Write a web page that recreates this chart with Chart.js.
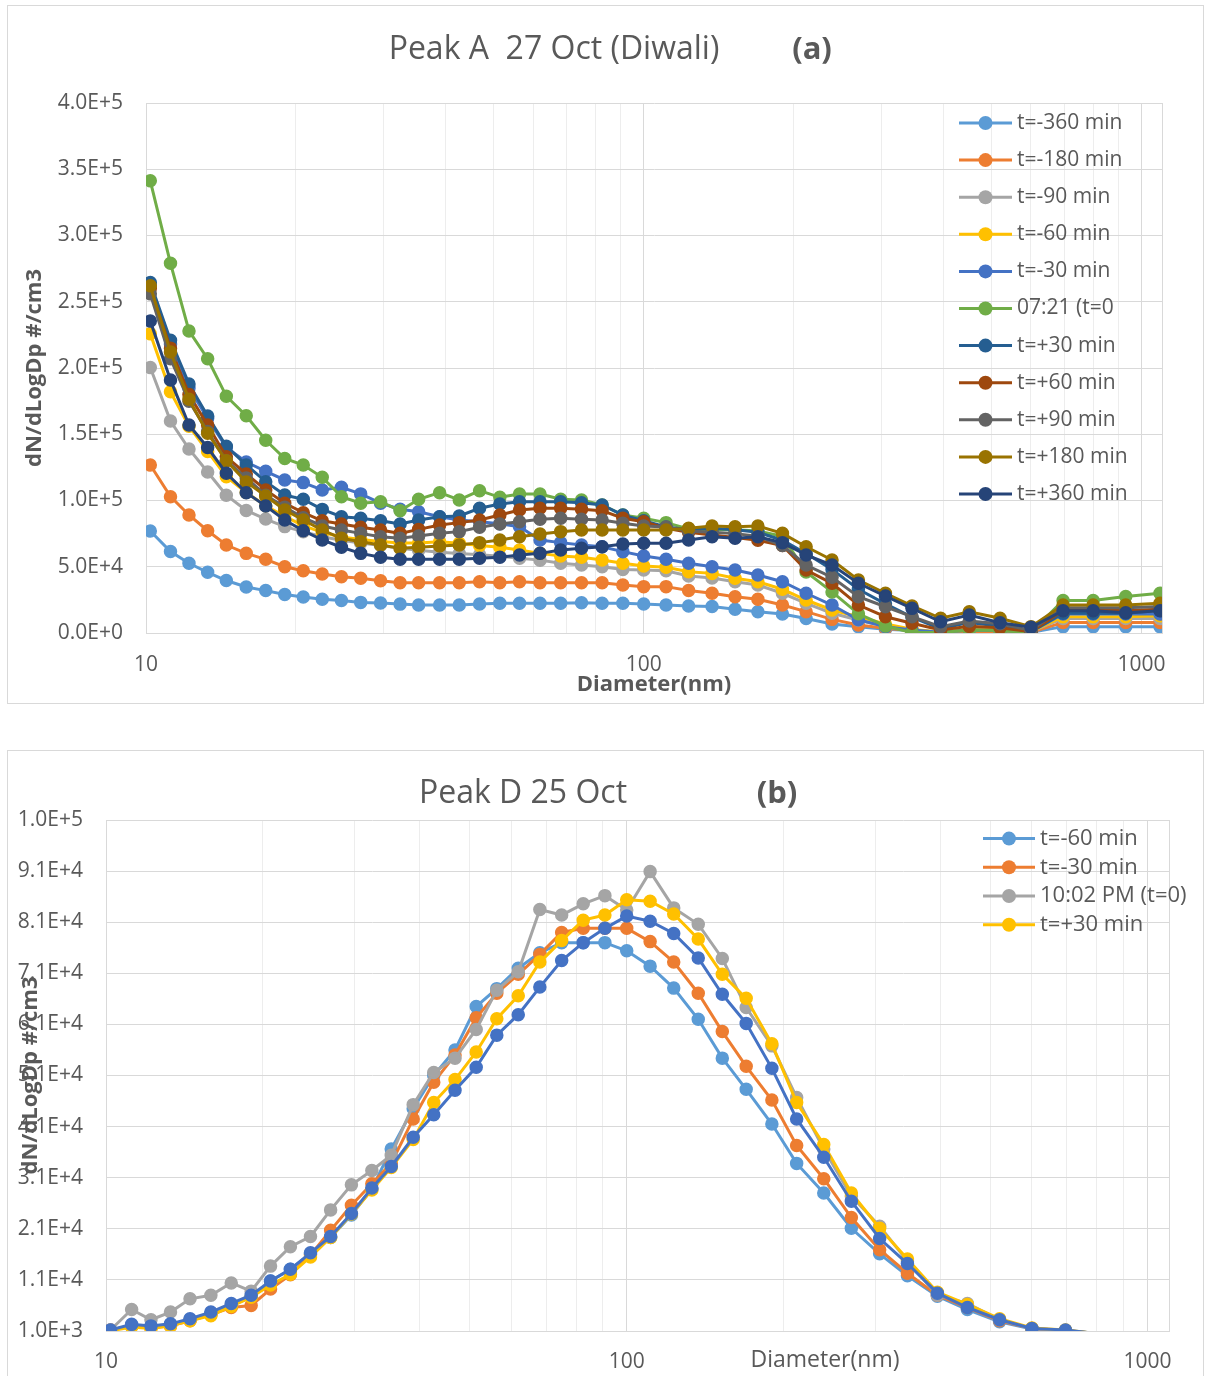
<!DOCTYPE html>
<html>
<head>
<meta charset="utf-8">
<script src="https://cdn.jsdelivr.net/npm/chart.js@4.4.0/dist/chart.umd.min.js"></script>
<style>
  body { margin: 0; background: #fff; width: 1205px; height: 1376px; overflow: hidden; position: relative; }
  .box { position: absolute; border: 1px solid #D9D9D9; box-sizing: border-box; }
  canvas { position: absolute; left: 0; }
</style>
</head>
<body>
<div class="box" style="left:7px;top:5px;width:1197px;height:699px"></div>
<div class="box" style="left:7px;top:750px;width:1197px;height:650px"></div>
<canvas id="peakA" width="1205" height="712" style="top:0"></canvas>
<canvas id="peakD" width="1205" height="626" style="top:750px"></canvas>
<script>
// particle diameter bins (nm), shared by both panels
const diameters = [10.2, 11.2, 12.2, 13.3, 14.5, 15.9, 17.4, 19.0, 20.7, 22.6,
  24.7, 27.0, 29.6, 32.4, 35.3, 38.9, 42.6, 46.8, 51.4, 56.3,
  61.9, 68.1, 75.0, 82.5, 90.8, 100, 110.9, 123.1, 137.2, 152.6,
  169.6, 190, 212, 239, 270, 306, 346, 395, 451, 520,
  600, 696, 800, 930, 1090];

const xGridLines = [10, 20, 30, 40, 50, 60, 70, 80, 90, 100, 200, 300, 400, 500, 600, 700, 800, 900, 1000, 1100];
const xTickLabels = [10, 100, 1000];
const yTicksA = [0, 50000, 100000, 150000, 200000, 250000, 300000, 350000, 400000];
const yTicksB = [1000, 11000, 21000, 31000, 41000, 51000, 61000, 71000, 81000, 91000, 101000];

// ---- panel (a): Peak A 27 Oct (Diwali)
const namesA = ['t=-360 min', 't=-180 min', 't=-90 min', 't=-60 min', 't=-30 min', '07:21 (t=0',
  't=+30 min', 't=+60 min', 't=+90 min', 't=+180 min', 't=+360 min'];
const colorsA = ['#5B9BD5', '#ED7D31', '#A5A5A5', '#FFC000', '#4472C4', '#70AD47',
  '#255E91', '#9E480E', '#636363', '#997300', '#264478'];

const tM360 = [77000, 61500, 52600, 45800, 39600, 34700, 32000, 29000, 27100, 25500,
  24600, 23100, 22600, 21800, 21100, 21100, 21100, 21900, 22400, 22400,
  22400, 22400, 22900, 22400, 22400, 21900, 21100, 20400, 20000, 17900,
  16100, 14300, 11000, 6800, 4800, 2800, 1800, 300, 2300, 1800,
  500, 4800, 4800, 4800, 4800];
const tM180 = [126800, 102900, 89100, 77200, 66400, 60100, 55600, 50000, 47000, 44500,
  42500, 41300, 39500, 38000, 38000, 38000, 38000, 38700, 38000, 38700,
  38000, 38000, 38000, 38000, 36200, 35000, 35000, 32000, 30000, 27400,
  25400, 21100, 16100, 10300, 6000, 3500, 1800, 300, 1000, 1000,
  500, 8000, 8000, 8000, 8000];
const tM90 = [200400, 160000, 138900, 121500, 104000, 92500, 86000, 80300, 76500, 72700,
  70000, 68000, 66000, 64000, 62500, 61000, 60000, 59000, 58000, 56500,
  55000, 52600, 51300, 50000, 48000, 47500, 47000, 43000, 41500, 38700,
  36200, 30000, 22400, 14900, 9800, 4800, 2300, 500, 2300, 1800,
  1000, 11000, 11000, 11000, 11000];
const tM60 = [225800, 182000, 156000, 137000, 118000, 106000, 96000, 88000, 81000, 76000,
  72500, 70500, 69000, 68000, 68000, 68900, 67700, 66000, 64700, 62600,
  60100, 58100, 57100, 55100, 52600, 50600, 49600, 46300, 45000, 41300,
  38700, 33000, 24900, 17400, 12300, 6800, 2800, 500, 2800, 2300,
  1000, 12300, 12300, 12300, 13000];
const tM30 = [262000, 218000, 185000, 162000, 140000, 129000, 122000, 115500, 113500, 108000,
  110000, 105000, 98000, 93400, 91500, 87800, 85300, 84000, 82500, 80200,
  70200, 68200, 66400, 65100, 61400, 58100, 55600, 52600, 50000, 47500,
  43800, 38700, 30000, 21100, 10000, 4800, 2300, 500, 2300, 1800,
  1000, 14300, 14300, 14300, 14300];
const t0721 = [341300, 279000, 228000, 207000, 178700, 164000, 145500, 131700, 126800, 117500,
  102900, 97900, 99100, 92300, 100900, 105900, 100400, 107400, 102400, 104900,
  104900, 100900, 100400, 96600, 89000, 86600, 83300, 78500, 78000, 78000,
  77000, 73000, 46000, 31000, 14500, 5300, 300, 300, 2300, 1800,
  300, 24500, 24500, 27500, 30000];
const tP30 = [264500, 221000, 188000, 163800, 141000, 126800, 114200, 104100, 100900, 93300,
  87800, 86600, 84700, 82300, 85300, 87800, 88300, 94100, 97400, 99100,
  99100, 99000, 98300, 96600, 89000, 84700, 80000, 78000, 79000, 78000,
  76000, 70000, 60000, 48000, 33000, 22000, 12000, 3000, 8000, 5000,
  1000, 15000, 15000, 15000, 17000];
const tP60 = [260000, 215000, 180000, 157000, 133000, 120000, 108000, 97900, 90800, 84700,
  82300, 79800, 77700, 75200, 78200, 81500, 83300, 85300, 89000, 92800,
  94100, 94100, 93400, 92300, 86600, 84000, 79000, 76000, 74000, 72000,
  70000, 66000, 47500, 37500, 21100, 12300, 7300, 2300, 5000, 4000,
  1000, 17000, 17000, 17000, 18000];
const tP90 = [256000, 207000, 175000, 152000, 130000, 117000, 104000, 95000, 87000, 80800,
  77700, 75200, 72700, 71500, 73200, 75200, 76500, 79800, 82300, 84000,
  85800, 86600, 85800, 85300, 82800, 80800, 80000, 77000, 76000, 75000,
  73000, 66000, 51300, 42000, 27400, 19800, 12300, 4800, 9000, 7000,
  2000, 19000, 19000, 19000, 20000];
const tP180 = [262000, 212000, 176400, 150700, 130000, 114000, 103400, 92800, 85300, 77700,
  71500, 68900, 66400, 63900, 64700, 65700, 66400, 68200, 70200, 72700,
  74700, 76500, 77700, 77700, 77700, 77700, 77700, 79000, 80800, 80200,
  80800, 75200, 65100, 55100, 40000, 30000, 20400, 11100, 16100, 11100,
  4800, 21100, 21100, 21100, 22400];
const tP360 = [235500, 191000, 157000, 140000, 120500, 105900, 95800, 85300, 77200, 70200,
  64700, 60100, 57100, 55600, 55600, 55600, 55600, 56400, 57100, 58900,
  60100, 62600, 63900, 65100, 67200, 67700, 67700, 70200, 72700, 71500,
  72700, 68200, 58900, 51300, 37500, 27900, 18600, 8500, 13600, 7800,
  4300, 16800, 16800, 15300, 16800];
const valuesA = [tM360, tM180, tM90, tM60, tM30, t0721, tP30, tP60, tP90, tP180, tP360];

// ---- panel (b): Peak D 25 Oct
const namesB = ['t=-60 min', 't=-30 min', '10:02 PM (t=0)', 't=+30 min', 't=+60 min'];
const colorsB = ['#5B9BD5', '#ED7D31', '#A5A5A5', '#FFC000', '#4472C4'];

const dM60 = [1200, 2000, 1800, 2300, 3200, 4400, 6000, 7600, 10800, 13100,
  16100, 19300, 23700, 28800, 36600, 44500, 51000, 56000, 64500, 68000,
  72000, 75000, 77000, 77000, 77000, 75400, 72400, 68100, 62000, 54400,
  48300, 41500, 33800, 28000, 21100, 16100, 11800, 7800, 5200, 2800,
  1400, 1100, 500, 300, 200];
const dM30 = [1200, 2000, 1600, 2000, 3000, 4200, 5600, 6000, 9200, 12000,
  15900, 20700, 25600, 29800, 33800, 42500, 49700, 55000, 62300, 67100,
  70800, 74700, 79000, 79800, 79800, 79800, 77200, 73200, 67100, 59600,
  52800, 46200, 37300, 30800, 23200, 16900, 12300, 8000, 5600, 3000,
  1500, 1100, 500, 300, 200];
const d1002 = [1200, 5200, 3200, 4700, 7300, 8000, 10400, 8800, 13700, 17500,
  19500, 24700, 29600, 32400, 35400, 45300, 51600, 54400, 60000, 67700,
  71300, 83500, 82400, 84600, 86200, 83400, 90900, 83800, 80600, 73900,
  64300, 56800, 46700, 36600, 27400, 21500, 14700, 8000, 6400, 3200,
  1500, 1100, 500, 300, 200];
const dP30 = [1000, 1800, 1500, 2000, 3000, 4000, 5800, 7600, 10000, 12100,
  15500, 19300, 23900, 28600, 33000, 38500, 45700, 50200, 55600, 62100,
  66600, 73200, 77400, 81400, 82400, 85400, 85100, 82600, 77700, 70800,
  66100, 57200, 45700, 37500, 28000, 21100, 15100, 8600, 6200, 3400,
  1600, 1200, 500, 300, 200];
const dP60 = [1200, 2300, 2000, 2400, 3400, 4700, 6400, 8000, 10800, 13100,
  16300, 19500, 24000, 29000, 33200, 38900, 43300, 48100, 52600, 58900,
  62900, 68300, 73500, 77000, 79800, 82200, 81200, 78800, 74000, 66900,
  61200, 52400, 42500, 35000, 26400, 19100, 14200, 8400, 5600, 3200,
  1500, 1200, 500, 300, 200];
const valuesB = [dM60, dM30, d1002, dP30, dP60];

const TEXT = '#595959';
const GRID = '#D9D9D9';
Chart.defaults.font.family = '"Open Sans", sans-serif';
Chart.defaults.color = TEXT;

// titles, panel letters and the in-plot legend (Excel style)
const decor = {
  id: 'decor',
  afterDraw(chart, args, opts) {
    const ctx = chart.ctx;
    ctx.save();
    ctx.textBaseline = 'middle';
    ctx.fillStyle = TEXT;
    opts.texts.forEach(t => {
      ctx.font = t.font;
      ctx.textAlign = 'center';
      ctx.fillText(t.text, t.x, t.y);
    });
    const L = opts.legend;
    chart.data.datasets.slice(0, L.count).forEach((ds, i) => {
      const y = L.y + i * L.gap;
      ctx.strokeStyle = ds.borderColor;
      ctx.lineWidth = 3;
      ctx.beginPath();
      ctx.moveTo(L.x, y);
      ctx.lineTo(L.x + L.len, y);
      ctx.stroke();
      ctx.fillStyle = ds.borderColor;
      ctx.beginPath();
      ctx.arc(L.x + L.len / 2, y, 7, 0, Math.PI * 2);
      ctx.fill();
      ctx.fillStyle = TEXT;
      ctx.font = L.font;
      ctx.textAlign = 'left';
      ctx.fillText(ds.label, L.x + L.len + 5, y);
    });
    ctx.restore();
  }
};

function series(label, color, vals, i, yMin) {
  return {
    label,
    data: diameters.map((d, k) => ({ x: d, y: vals[k] })),
    borderColor: color,
    backgroundColor: color,
    borderWidth: 3,
    pointBackgroundColor: color,
    pointBorderColor: color,
    pointBorderWidth: 1.5,
    pointRadius: c => (c.raw && c.raw.y < yMin ? 0 : 6),
    tension: 0,
    order: -i
  };
}

function xAxis(height, tickPad, title) {
  return {
    type: 'logarithmic',
    min: 10,
    max: 1100,
    afterBuildTicks: s => { s.ticks = xGridLines.map(v => ({ value: v })); },
    afterFit: s => { s.height = height; },
    ticks: {
      autoSkip: false, maxRotation: 0, padding: tickPad,
      font: { size: 21 }, color: TEXT,
      callback: v => (xTickLabels.includes(v) ? String(v) : '')
    },
    grid: {
      drawTicks: false,
      color: c => (xTickLabels.includes(c.tick.value) || c.tick.value === 1100 ? GRID : '#EDEDED')
    },
    border: { color: GRID },
    title
  };
}

function yAxis(width, ticks, titlePad) {
  return {
    min: ticks[0],
    max: ticks[ticks.length - 1],
    afterBuildTicks: s => { s.ticks = ticks.map(v => ({ value: v })); },
    afterFit: s => { s.width = width; },
    ticks: {
      padding: 23, font: { size: 21 }, color: TEXT,
      callback: v => v.toExponential(1).toUpperCase()
    },
    grid: { drawTicks: false, color: GRID },
    border: { color: GRID },
    title: {
      display: true, text: 'dN/dLogDp #/cm3', color: TEXT,
      font: { size: 22, weight: 'bold' }, padding: { top: titlePad }
    }
  };
}

new Chart(document.getElementById('peakA'), {
  type: 'line',
  data: { datasets: namesA.map((n, i) => series(n, colorsA[i], valuesA[i], i, yTicksA[0])) },
  options: {
    responsive: false,
    animation: false,
    events: [],
    layout: { padding: { left: 0, top: 103, right: 43, bottom: 0 } },
    scales: {
      x: xAxis(79, 19, {
        display: true, text: 'Diameter(nm)', color: TEXT,
        font: { size: 22, weight: 'bold' }, padding: { top: 0, bottom: 14 }
      }),
      y: yAxis(146, yTicksA, 22)
    },
    plugins: {
      legend: { display: false },
      tooltip: { enabled: false },
      decor: {
        texts: [
          { text: 'Peak A  27 Oct (Diwali)', x: 554, y: 50, font: '32px "Open Sans"' },
          { text: '(a)', x: 812, y: 50, font: 'bold 31px "Open Sans"' }
        ],
        legend: { x: 959, y: 123, gap: 37.1, len: 53, count: 11, font: '21px "Open Sans"' }
      }
    }
  },
  plugins: [decor]
});

new Chart(document.getElementById('peakD'), {
  type: 'line',
  data: { datasets: namesB.map((n, i) => series(n, colorsB[i], valuesB[i], i, yTicksB[0])) },
  options: {
    responsive: false,
    animation: false,
    events: [],
    layout: { padding: { left: 0, top: 70, right: 36, bottom: 0 } },
    scales: {
      x: xAxis(45, 18, { display: false }),
      y: yAxis(106, yTicksB, 18)
    },
    plugins: {
      legend: { display: false },
      tooltip: { enabled: false },
      decor: {
        texts: [
          { text: 'Peak D 25 Oct', x: 523, y: 44, font: '32px "Open Sans"' },
          { text: '(b)', x: 777, y: 44, font: 'bold 31px "Open Sans"' },
          { text: 'Diameter(nm)', x: 825, y: 610, font: '23px "Open Sans"' }
        ],
        legend: { x: 983, y: 88.6, gap: 28.7, len: 52, count: 4, font: '22px "Open Sans"' }
      }
    }
  },
  plugins: [decor]
});
</script>
</body>
</html>
